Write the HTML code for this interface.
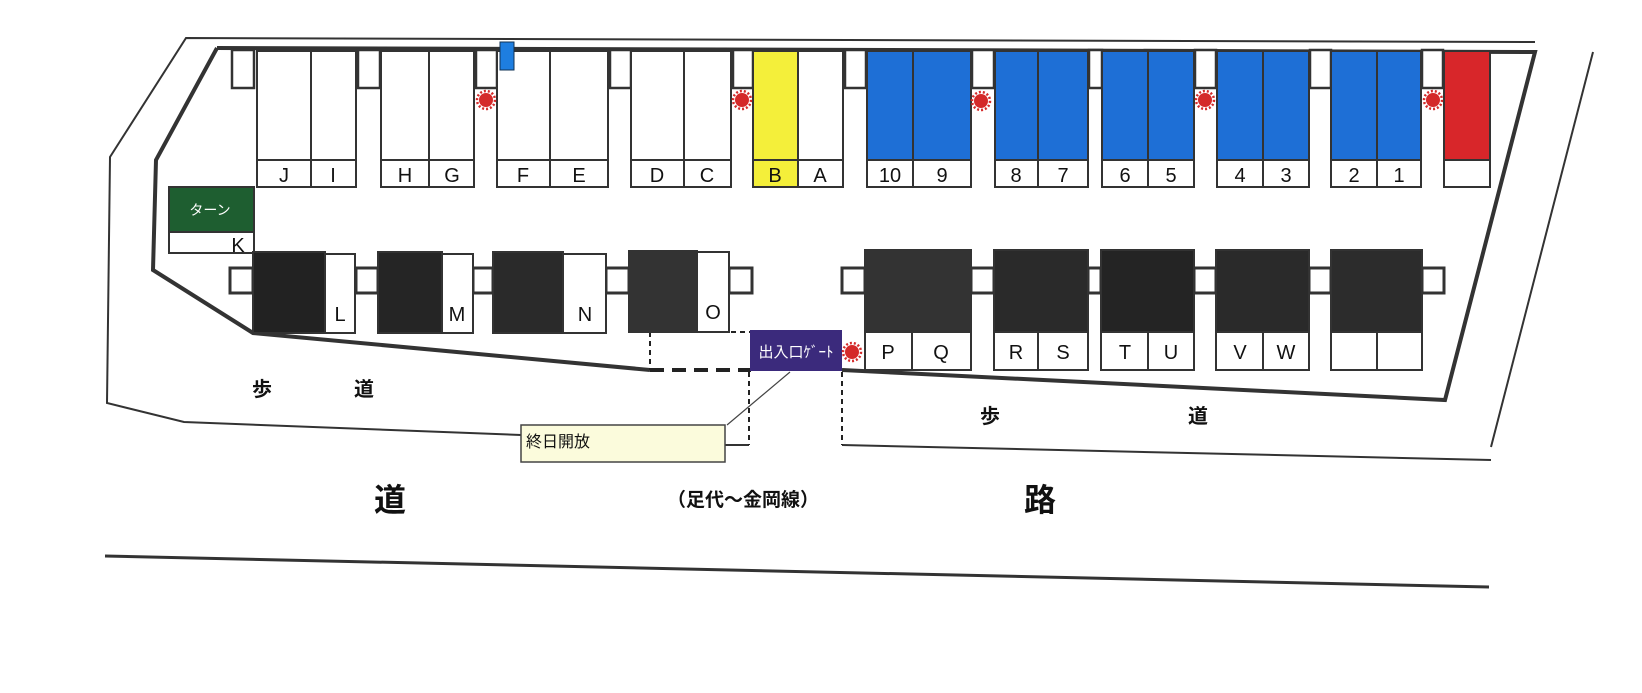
<!DOCTYPE html>
<html><head><meta charset="utf-8"><style>
html,body{margin:0;padding:0;background:#fff;width:1642px;height:693px;overflow:hidden}
svg{display:block}
text{font-family:"Liberation Sans","Noto Sans CJK JP",sans-serif}
</style></head><body>
<svg width="1642" height="693" viewBox="0 0 1642 693" xmlns="http://www.w3.org/2000/svg">
<defs>
<g id="sun"><circle r="7" fill="#d42a2a"/><circle r="9" fill="none" stroke="#d42a2a" stroke-width="2.5" stroke-dasharray="2 2"/></g>
</defs>
<g fill="none" stroke="#333" stroke-width="2">
<!-- outer thin boundary -->
<polyline points="1535,42 186,38 110,157 107,403 184,422 521,435"/>
<polyline points="1593,52 1491,447"/>
<polyline points="842,445 1491,460"/>
<line x1="725" y1="445" x2="749" y2="445"/>
</g>
<g fill="none" stroke="#333" stroke-width="4">
<polyline points="217,48 1535,52 1445,400 842,370"/>
<polyline points="217,48 156,160 153,270 253,333 650,370"/>
</g>
<!-- dashed -->
<g fill="none" stroke="#222" stroke-width="2" stroke-dasharray="5 4">
<polyline points="650,332 650,370"/>
<line x1="650" y1="332" x2="751" y2="332"/>
<line x1="749" y1="372" x2="749" y2="445"/>
<line x1="842" y1="372" x2="842" y2="445"/>
</g>
<line x1="650" y1="370" x2="751" y2="370" stroke="#222" stroke-width="4" stroke-dasharray="14 8"/>
<line x1="727" y1="425" x2="790" y2="372" stroke="#444" stroke-width="1.2"/>
<!-- top row pillars -->
<g fill="#fff" stroke="#333" stroke-width="2.5">
<rect x="232" y="50" width="22" height="38"/>
<rect x="358" y="50" width="22" height="38"/>
<rect x="476" y="50" width="21" height="38"/>
<rect x="610" y="50" width="21" height="38"/>
<rect x="733" y="50" width="20" height="38"/>
<rect x="845" y="50" width="21" height="38"/>
<rect x="972" y="50" width="22" height="38"/>
<rect x="1089" y="50" width="13" height="38"/>
<rect x="1195" y="50" width="21" height="38"/>
<rect x="1310" y="50" width="21" height="38"/>
<rect x="1422" y="50" width="21" height="38"/>
</g>
<!-- top row slots -->
<g stroke="#333" stroke-width="2">
<rect x="257" y="51" width="99" height="136" fill="#fff"/><line x1="311" y1="51" x2="311" y2="187"/>
<rect x="381" y="51" width="93" height="136" fill="#fff"/><line x1="429" y1="51" x2="429" y2="187"/>
<rect x="497" y="51" width="111" height="136" fill="#fff"/><line x1="550" y1="51" x2="550" y2="187"/>
<rect x="631" y="51" width="100" height="136" fill="#fff"/><line x1="684" y1="51" x2="684" y2="187"/>
<rect x="753" y="51" width="45" height="136" fill="#f4ef3a"/>
<rect x="798" y="51" width="45" height="136" fill="#fff"/>
<rect x="867" y="51" width="104" height="136" fill="#1e6fd6"/><line x1="913" y1="51" x2="913" y2="187"/>
<rect x="995" y="51" width="93" height="136" fill="#1e6fd6"/><line x1="1038" y1="51" x2="1038" y2="187"/>
<rect x="1102" y="51" width="92" height="136" fill="#1e6fd6"/><line x1="1148" y1="51" x2="1148" y2="187"/>
<rect x="1217" y="51" width="92" height="136" fill="#1e6fd6"/><line x1="1263" y1="51" x2="1263" y2="187"/>
<rect x="1331" y="51" width="90" height="136" fill="#1e6fd6"/><line x1="1377" y1="51" x2="1377" y2="187"/>
<rect x="1444" y="51" width="46" height="136" fill="#d8262a"/>
</g>
<g fill="#fff" stroke="#333" stroke-width="2">
<rect x="257" y="160" width="99" height="27"/><line x1="311" y1="160" x2="311" y2="187"/>
<rect x="381" y="160" width="93" height="27"/><line x1="429" y1="160" x2="429" y2="187"/>
<rect x="497" y="160" width="111" height="27"/><line x1="550" y1="160" x2="550" y2="187"/>
<rect x="631" y="160" width="100" height="27"/><line x1="684" y1="160" x2="684" y2="187"/>
<rect x="753" y="160" width="45" height="27" fill="#f4ef3a"/>
<rect x="798" y="160" width="45" height="27"/>
<rect x="867" y="160" width="104" height="27"/><line x1="913" y1="160" x2="913" y2="187"/>
<rect x="995" y="160" width="93" height="27"/><line x1="1038" y1="160" x2="1038" y2="187"/>
<rect x="1102" y="160" width="92" height="27"/><line x1="1148" y1="160" x2="1148" y2="187"/>
<rect x="1217" y="160" width="92" height="27"/><line x1="1263" y1="160" x2="1263" y2="187"/>
<rect x="1331" y="160" width="90" height="27"/><line x1="1377" y1="160" x2="1377" y2="187"/>
<rect x="1444" y="160" width="46" height="27"/>
</g>
<g font-size="20" text-anchor="middle" fill="#111">
<text x="284" y="182">J</text><text x="333" y="182">I</text>
<text x="405" y="182">H</text><text x="452" y="182">G</text>
<text x="523" y="182">F</text><text x="579" y="182">E</text>
<text x="657" y="182">D</text><text x="707" y="182">C</text>
<text x="775" y="182">B</text><text x="820" y="182">A</text>
<text x="890" y="182">10</text><text x="942" y="182">9</text>
<text x="1016" y="182">8</text><text x="1063" y="182">7</text>
<text x="1125" y="182">6</text><text x="1171" y="182">5</text>
<text x="1240" y="182">4</text><text x="1286" y="182">3</text>
<text x="1354" y="182">2</text><text x="1399" y="182">1</text>
</g>
<rect x="500" y="42" width="14" height="28" fill="#1e7ee0" stroke="#135" stroke-width="1"/>
<use href="#sun" x="486" y="100"/><use href="#sun" x="742" y="100"/>
<use href="#sun" x="981" y="101"/><use href="#sun" x="1205" y="100"/><use href="#sun" x="1433" y="100"/>
<!-- turn -->
<rect x="169" y="187" width="85" height="45" fill="#1e5e30" stroke="#333" stroke-width="2"/>
<rect x="169" y="232" width="85" height="21" fill="#fff" stroke="#333" stroke-width="2"/>
<text x="210" y="215" font-size="14" fill="#fff" text-anchor="middle">ターン</text>
<text x="238" y="252" font-size="20" fill="#111" text-anchor="middle">K</text>
<!-- bottom row rail -->
<g fill="#fff" stroke="#333" stroke-width="3">
<rect x="230" y="268" width="23" height="25"/><rect x="356" y="268" width="22" height="25"/>
<rect x="473" y="268" width="20" height="25"/><rect x="606" y="268" width="23" height="25"/>
<rect x="729" y="268" width="23" height="25"/>
<rect x="842" y="268" width="23" height="25"/><rect x="971" y="268" width="23" height="25"/>
<rect x="1088" y="268" width="13" height="25"/><rect x="1194" y="268" width="22" height="25"/>
<rect x="1309" y="268" width="22" height="25"/><rect x="1422" y="268" width="22" height="25"/>
</g>
<g stroke="#333" stroke-width="2">
<rect x="253" y="252" width="72" height="81" fill="#222"/><rect x="325" y="254" width="30" height="79" fill="#fff"/>
<rect x="378" y="252" width="64" height="81" fill="#252525"/><rect x="442" y="254" width="31" height="79" fill="#fff"/>
<rect x="493" y="252" width="70" height="81" fill="#2a2a2a"/><rect x="563" y="254" width="43" height="79" fill="#fff"/>
<rect x="629" y="251" width="68" height="81" fill="#333"/><rect x="697" y="252" width="32" height="80" fill="#fff"/>
<rect x="865" y="250" width="106" height="82" fill="#333"/>
<rect x="994" y="250" width="94" height="82" fill="#2a2a2a"/>
<rect x="1101" y="250" width="93" height="82" fill="#242424"/>
<rect x="1216" y="250" width="93" height="82" fill="#2a2a2a"/>
<rect x="1331" y="250" width="91" height="82" fill="#2c2c2c"/>
</g>
<g fill="#fff" stroke="#333" stroke-width="2">
<rect x="865" y="332" width="106" height="38"/><line x1="912" y1="332" x2="912" y2="370"/>
<rect x="994" y="332" width="94" height="38"/><line x1="1038" y1="332" x2="1038" y2="370"/>
<rect x="1101" y="332" width="93" height="38"/><line x1="1148" y1="332" x2="1148" y2="370"/>
<rect x="1216" y="332" width="93" height="38"/><line x1="1263" y1="332" x2="1263" y2="370"/>
<rect x="1331" y="332" width="91" height="38"/><line x1="1377" y1="332" x2="1377" y2="370"/>
</g>
<g font-size="20" text-anchor="middle" fill="#111">
<text x="340" y="321">L</text><text x="457" y="321">M</text><text x="585" y="321">N</text><text x="713" y="319">O</text>
<text x="888" y="359">P</text><text x="941" y="359">Q</text><text x="1016" y="359">R</text><text x="1063" y="359">S</text>
<text x="1125" y="359">T</text><text x="1171" y="359">U</text><text x="1240" y="359">V</text><text x="1286" y="359">W</text>
</g>
<!-- gate -->
<rect x="750" y="330" width="92" height="41" fill="#3b2a7c"/>
<text x="796" y="357" font-size="15" fill="#fff" text-anchor="middle">出入口ｹﾞｰﾄ</text>
<use href="#sun" x="852" y="352"/>
<rect x="521" y="425" width="204" height="37" fill="#fbfbdc" stroke="#444" stroke-width="1.5"/>
<text x="526" y="447" font-size="16" fill="#111">終日開放</text>
<g font-size="20" fill="#111" text-anchor="middle" font-weight="bold">
<text x="262" y="396">歩</text><text x="364" y="396">道</text>
<text x="990" y="423">歩</text><text x="1198" y="423">道</text>
</g>
<text x="390" y="511" font-size="32" font-weight="bold" text-anchor="middle" fill="#111">道</text>
<text x="1040" y="511" font-size="32" font-weight="bold" text-anchor="middle" fill="#111">路</text>
<text x="743" y="506" font-size="19" font-weight="bold" text-anchor="middle" fill="#111">（足代～金岡線）</text>
<line x1="105" y1="556" x2="1489" y2="587" stroke="#333" stroke-width="3"/>
</svg>
</body></html>
